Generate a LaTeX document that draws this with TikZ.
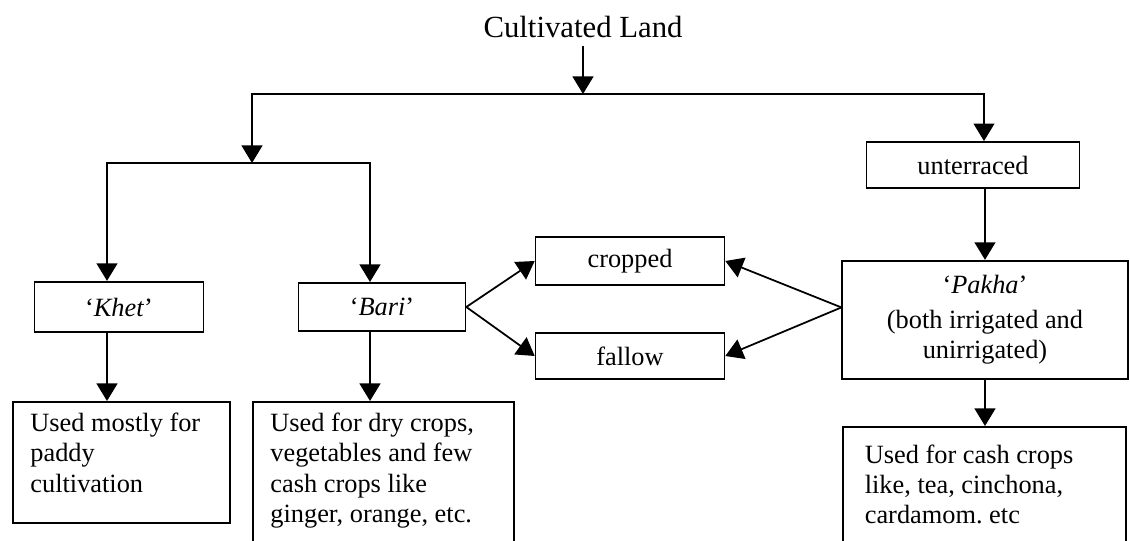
\documentclass[tikz,border=0pt]{standalone}
\usepackage{fontspec}
\setmainfont{Liberation Serif}
\usepackage{tikz}
\usetikzlibrary{arrows.meta,positioning}
\tikzstyle{landbox} = [draw, line width=0.8pt, rectangle, inner sep=0pt, align=center, font=\fontsize{12}{13.8}\selectfont]
\tikzstyle{usebox} = [draw, line width=0.8pt, rectangle, anchor=north west, inner xsep=8pt, inner ysep=5pt, font=\fontsize{12}{13.8}\selectfont]
\tikzstyle{flow} = [line width=0.8pt, -{Triangle[length=8pt,width=9.5pt]}]
\tikzstyle{link} = [line width=0.8pt, line cap=rect]

\begin{document}
\begin{tikzpicture}[x=0.016cm,y=-0.016cm]
	\useasboundingbox (0,0) rectangle (1130,541);
	\node[font=\fontsize{14}{17}\selectfont] (land) at (583,27) {Cultivated Land};
	\coordinate (split) at (583,94);
	\coordinate (lsplit) at (252,94);
	\coordinate (rsplit) at (984,94);
	\coordinate (fork) at (252,163);
	\coordinate (kfork) at (107,163);
	\coordinate (bfork) at (370,163);

	\node[landbox, minimum width=77pt, minimum height=23pt] (khet) at (119,307) {`\textit{Khet}'};
	\node[landbox, minimum width=76pt, minimum height=22pt] (bari) at (382,307) {`\textit{Bari}'};
	\node[landbox, minimum width=86pt, minimum height=22pt] (cropped) at (630,261) {cropped};
	\node[landbox, minimum width=86pt, minimum height=21pt] (fallow) at (630,356) {fallow};
	\node[landbox, minimum width=97pt, minimum height=21pt] (unterraced) at (973,165) {unterraced};
	\node[landbox, minimum width=130pt, minimum height=54pt] (pakha) at (985,320) {`\textit{Pakha}'\\[2pt](both irrigated and\\unirrigated)};

	\node[usebox] (khetuse) at (12,401) {%
		\begin{minipage}[t][45pt][t]{83pt}
		Used mostly for\\paddy\\cultivation
		\end{minipage}
	};
	\node[usebox] (bariuse) at (252,401) {%
		\begin{minipage}[t][62pt][t]{103pt}
		Used for dry crops,\\vegetables and few\\cash crops like\\ginger, orange, etc.
		\end{minipage}
	};
	\node[usebox, inner xsep=10pt, inner ysep=8pt] (pakhause) at (842,426) {%
		\begin{minipage}[t][45pt][t]{109pt}
		Used for cash crops\\like, tea, cinchona,\\cardamom.\ etc
		\end{minipage}
	};

	\draw[flow] (land) -- (split);
	\draw[link] (lsplit) -- (rsplit);
	\draw[flow] (lsplit) -- (fork);
	\draw[link] (kfork) -- (bfork);
	\draw[flow] (kfork) -- (kfork |- khet.north);
	\draw[flow] (bfork) -- (bfork |- bari.north);
	\draw[flow] (rsplit) -- (rsplit |- unterraced.north);
	\draw[flow] (unterraced.south -| pakha) -- (pakha);
	\draw[flow] (bari.east) -- (cropped.west);
	\draw[flow] (bari.east) -- (fallow.west);
	\draw[flow] (pakha.175) -- (cropped.east);
	\draw[flow] (pakha.175) -- (fallow.east);
	\draw[flow] (khet.south -| kfork) -- (khetuse.north -| kfork);
	\draw[flow] (bari.south -| bfork) -- (bariuse.north -| bfork);
	\draw[flow] (pakha.south) -- (pakhause.north -| pakha.south);
\end{tikzpicture}
\end{document}
